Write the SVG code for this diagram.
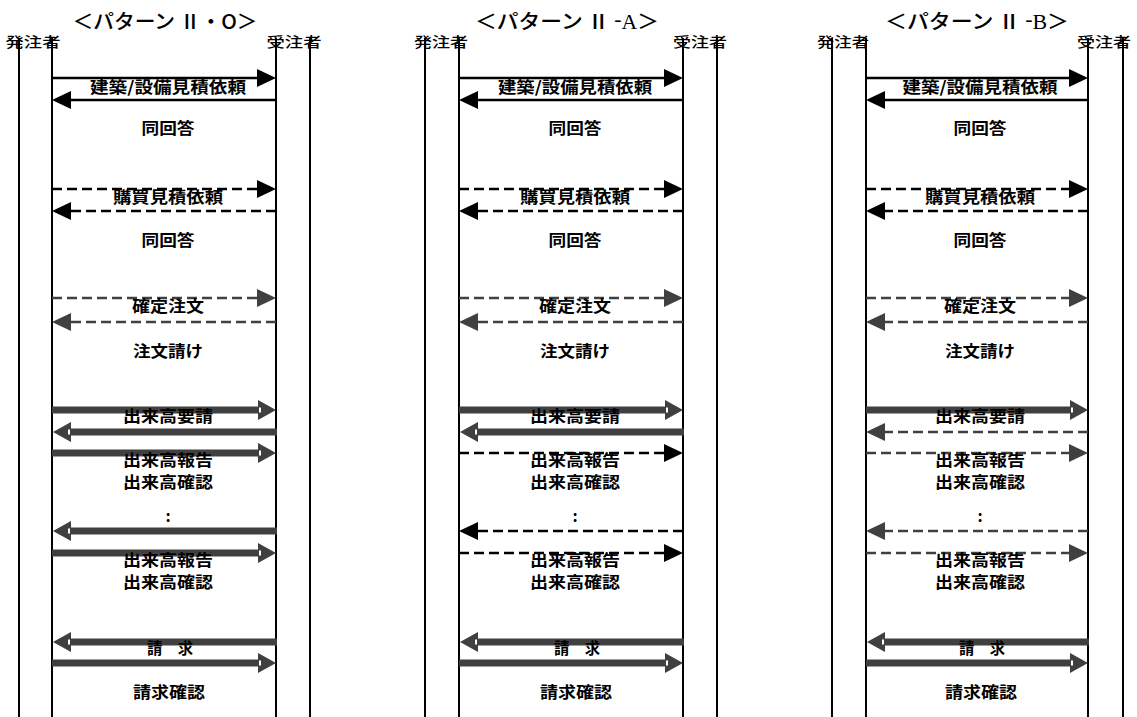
<svg xmlns="http://www.w3.org/2000/svg" width="1137" height="717" viewBox="0 0 1137 717">
<style>
.life{stroke:#000;stroke-width:2;fill:none}
.t{font-family:"Noto Sans CJK JP","Noto Sans",sans-serif;fill:#000}
.title{font-size:20px;font-weight:500;text-anchor:middle}
.hdr{font-size:14px;font-weight:500;text-anchor:middle}
.lbl{font-size:16px;font-weight:bold;text-anchor:middle}
.sb{stroke:#000;stroke-width:2.5;fill:none;marker-end:url(#hb)}
.db{stroke:#000;stroke-width:2.5;fill:none;stroke-dasharray:10 5;marker-end:url(#hb)}
.dg{stroke:#404040;stroke-width:2.5;fill:none;stroke-dasharray:10 5;marker-end:url(#hg)}
.tg{stroke:#404040;stroke-width:7;fill:none;marker-end:url(#ht)}
</style>
<defs>
<marker id="hb" markerUnits="userSpaceOnUse" markerWidth="20" markerHeight="20" refX="2" refY="9" orient="auto" overflow="visible"><path d="M0,0 L19,9 L0,18 Z" fill="#000"/></marker>
<marker id="hg" markerUnits="userSpaceOnUse" markerWidth="20" markerHeight="20" refX="2" refY="9" orient="auto" overflow="visible"><path d="M0,0 L19,9 L0,18 Z" fill="#404040"/></marker>
<marker id="ht" markerUnits="userSpaceOnUse" markerWidth="20" markerHeight="22" refX="2" refY="10" orient="auto" overflow="visible"><path d="M0,0 L18,10 L0,20 Z" fill="#404040"/><rect x="1" y="7.5" width="2" height="5" fill="#fff"/></marker>
</defs>
<rect width="1137" height="717" fill="#fff"/>

<!-- Pattern II-O -->
<g id="pattern-O">
  <text class="t title" x="165" y="29" textLength="185" lengthAdjust="spacingAndGlyphs">＜パターン Ⅱ・O＞</text>
  <g id="O-orderer"><line class="life" x1="19" y1="38" x2="19" y2="717"/><line class="life" x1="52" y1="38" x2="52" y2="717"/><text class="t hdr" x="33" y="47" textLength="55" lengthAdjust="spacingAndGlyphs">発注者</text></g>
  <g id="O-contractor"><line class="life" x1="276" y1="38" x2="276" y2="717"/><line class="life" x1="310" y1="38" x2="310" y2="717"/><text class="t hdr" x="294" y="47" textLength="55" lengthAdjust="spacingAndGlyphs">受注者</text></g>
</g>
<!-- Pattern II-A -->
<g id="pattern-A">
  <text class="t title" x="567" y="29" textLength="184" lengthAdjust="spacingAndGlyphs">＜パターン Ⅱ <tspan font-family="Liberation Serif" dy="-3">-</tspan><tspan font-family="Liberation Serif" dy="3">A</tspan>＞</text>
  <g id="A-orderer"><line class="life" x1="425" y1="38" x2="425" y2="717"/><line class="life" x1="459" y1="38" x2="459" y2="717"/><text class="t hdr" x="441" y="47" textLength="54" lengthAdjust="spacingAndGlyphs">発注者</text></g>
  <g id="A-contractor"><line class="life" x1="683" y1="38" x2="683" y2="717"/><line class="life" x1="717" y1="38" x2="717" y2="717"/><text class="t hdr" x="700" y="47" textLength="54" lengthAdjust="spacingAndGlyphs">受注者</text></g>
</g>
<!-- Pattern II-B -->
<g id="pattern-B">
  <text class="t title" x="977" y="29" textLength="184" lengthAdjust="spacingAndGlyphs">＜パターン Ⅱ <tspan font-family="Liberation Serif" dy="-3">-</tspan><tspan font-family="Liberation Serif" dy="3">B</tspan>＞</text>
  <g id="B-orderer"><line class="life" x1="832" y1="38" x2="832" y2="717"/><line class="life" x1="866" y1="38" x2="866" y2="717"/><text class="t hdr" x="843" y="47" textLength="52" lengthAdjust="spacingAndGlyphs">発注者</text></g>
  <g id="B-contractor"><line class="life" x1="1088" y1="38" x2="1088" y2="717"/><line class="life" x1="1123" y1="38" x2="1123" y2="717"/><text class="t hdr" x="1104" y="47" textLength="54" lengthAdjust="spacingAndGlyphs">受注者</text></g>
</g>

<g id="connectors">
  <!-- O -->
  <line class="sb" x1="52" y1="78" x2="259" y2="78"/>
  <line class="sb" x1="276" y1="100" x2="69" y2="100"/>
  <line class="db" x1="52" y1="189" x2="259" y2="189"/>
  <line class="db" x1="276" y1="211" x2="69" y2="211"/>
  <line class="dg" x1="52" y1="298" x2="259" y2="298"/>
  <line class="dg" x1="276" y1="322" x2="69" y2="322"/>
  <line class="tg" x1="52" y1="410" x2="260" y2="410"/>
  <line class="tg" x1="277" y1="432" x2="69" y2="432"/>
  <line class="tg" x1="52" y1="453" x2="260" y2="453"/>
  <line class="tg" x1="277" y1="531" x2="69" y2="531"/>
  <line class="tg" x1="52" y1="553" x2="260" y2="553"/>
  <line class="tg" x1="277" y1="642" x2="69" y2="642"/>
  <line class="tg" x1="52" y1="663" x2="260" y2="663"/>
  <!-- A -->
  <line class="sb" x1="459" y1="78" x2="666" y2="78"/>
  <line class="sb" x1="683" y1="100" x2="476" y2="100"/>
  <line class="db" x1="459" y1="189" x2="666" y2="189"/>
  <line class="db" x1="683" y1="211" x2="476" y2="211"/>
  <line class="dg" x1="459" y1="298" x2="666" y2="298"/>
  <line class="dg" x1="683" y1="322" x2="476" y2="322"/>
  <line class="tg" x1="459" y1="410" x2="667" y2="410"/>
  <line class="tg" x1="684" y1="432" x2="476" y2="432"/>
  <line class="db" x1="459" y1="453" x2="666" y2="453"/>
  <line class="db" x1="683" y1="531" x2="476" y2="531"/>
  <line class="db" x1="459" y1="553" x2="666" y2="553"/>
  <line class="tg" x1="684" y1="642" x2="476" y2="642"/>
  <line class="tg" x1="459" y1="663" x2="667" y2="663"/>
  <!-- B -->
  <line class="sb" x1="866" y1="78" x2="1071" y2="78"/>
  <line class="sb" x1="1088" y1="100" x2="883" y2="100"/>
  <line class="db" x1="866" y1="189" x2="1071" y2="189"/>
  <line class="db" x1="1088" y1="211" x2="883" y2="211"/>
  <line class="dg" x1="866" y1="298" x2="1071" y2="298"/>
  <line class="dg" x1="1088" y1="322" x2="883" y2="322"/>
  <line class="tg" x1="866" y1="410" x2="1072" y2="410"/>
  <line class="dg" x1="1088" y1="432" x2="883" y2="432"/>
  <line class="dg" x1="866" y1="453" x2="1071" y2="453"/>
  <line class="dg" x1="1088" y1="531" x2="883" y2="531"/>
  <line class="dg" x1="866" y1="553" x2="1071" y2="553"/>
  <line class="tg" x1="1089" y1="642" x2="883" y2="642"/>
  <line class="tg" x1="866" y1="663" x2="1072" y2="663"/>
</g>

<g id="labels-O" class="t lbl">
  <text x="168" y="93" textLength="156" lengthAdjust="spacingAndGlyphs">建築/設備見積依頼</text>
  <text x="168" y="134" textLength="53" lengthAdjust="spacingAndGlyphs">同回答</text>
  <text x="168" y="203" textLength="110" lengthAdjust="spacingAndGlyphs">購買見積依頼</text>
  <text x="168" y="246" textLength="53" lengthAdjust="spacingAndGlyphs">同回答</text>
  <text x="168" y="312" textLength="72" lengthAdjust="spacingAndGlyphs">確定注文</text>
  <text x="168" y="357" textLength="70" lengthAdjust="spacingAndGlyphs">注文請け</text>
  <text x="168" y="422" textLength="90" lengthAdjust="spacingAndGlyphs">出来高要請</text>
  <text x="168" y="466" textLength="90" lengthAdjust="spacingAndGlyphs">出来高報告</text>
  <text x="168" y="488" textLength="90" lengthAdjust="spacingAndGlyphs">出来高確認</text>
  <text x="168" y="522">:</text>
  <text x="168" y="566" textLength="90" lengthAdjust="spacingAndGlyphs">出来高報告</text>
  <text x="168" y="588" textLength="90" lengthAdjust="spacingAndGlyphs">出来高確認</text>
  <text x="170" y="654" textLength="46" lengthAdjust="spacingAndGlyphs">請　求</text>
  <text x="169" y="698" textLength="72" lengthAdjust="spacingAndGlyphs">請求確認</text>
</g>
<g id="labels-A" class="t lbl">
  <text x="575" y="93" textLength="154" lengthAdjust="spacingAndGlyphs">建築/設備見積依頼</text>
  <text x="575" y="134" textLength="53" lengthAdjust="spacingAndGlyphs">同回答</text>
  <text x="575" y="203" textLength="110" lengthAdjust="spacingAndGlyphs">購買見積依頼</text>
  <text x="575" y="246" textLength="53" lengthAdjust="spacingAndGlyphs">同回答</text>
  <text x="575" y="312" textLength="72" lengthAdjust="spacingAndGlyphs">確定注文</text>
  <text x="575" y="357" textLength="70" lengthAdjust="spacingAndGlyphs">注文請け</text>
  <text x="575" y="422" textLength="90" lengthAdjust="spacingAndGlyphs">出来高要請</text>
  <text x="575" y="466" textLength="90" lengthAdjust="spacingAndGlyphs">出来高報告</text>
  <text x="575" y="488" textLength="90" lengthAdjust="spacingAndGlyphs">出来高確認</text>
  <text x="575" y="522">:</text>
  <text x="575" y="566" textLength="90" lengthAdjust="spacingAndGlyphs">出来高報告</text>
  <text x="575" y="588" textLength="90" lengthAdjust="spacingAndGlyphs">出来高確認</text>
  <text x="577" y="654" textLength="46" lengthAdjust="spacingAndGlyphs">請　求</text>
  <text x="576" y="698" textLength="72" lengthAdjust="spacingAndGlyphs">請求確認</text>
</g>
<g id="labels-B" class="t lbl">
  <text x="980" y="93" textLength="155" lengthAdjust="spacingAndGlyphs">建築/設備見積依頼</text>
  <text x="980" y="134" textLength="53" lengthAdjust="spacingAndGlyphs">同回答</text>
  <text x="980" y="203" textLength="110" lengthAdjust="spacingAndGlyphs">購買見積依頼</text>
  <text x="980" y="246" textLength="53" lengthAdjust="spacingAndGlyphs">同回答</text>
  <text x="980" y="312" textLength="72" lengthAdjust="spacingAndGlyphs">確定注文</text>
  <text x="980" y="357" textLength="70" lengthAdjust="spacingAndGlyphs">注文請け</text>
  <text x="980" y="422" textLength="90" lengthAdjust="spacingAndGlyphs">出来高要請</text>
  <text x="980" y="466" textLength="90" lengthAdjust="spacingAndGlyphs">出来高報告</text>
  <text x="980" y="488" textLength="90" lengthAdjust="spacingAndGlyphs">出来高確認</text>
  <text x="980" y="522">:</text>
  <text x="980" y="566" textLength="90" lengthAdjust="spacingAndGlyphs">出来高報告</text>
  <text x="980" y="588" textLength="90" lengthAdjust="spacingAndGlyphs">出来高確認</text>
  <text x="982" y="654" textLength="46" lengthAdjust="spacingAndGlyphs">請　求</text>
  <text x="981" y="698" textLength="72" lengthAdjust="spacingAndGlyphs">請求確認</text>
</g>
</svg>
